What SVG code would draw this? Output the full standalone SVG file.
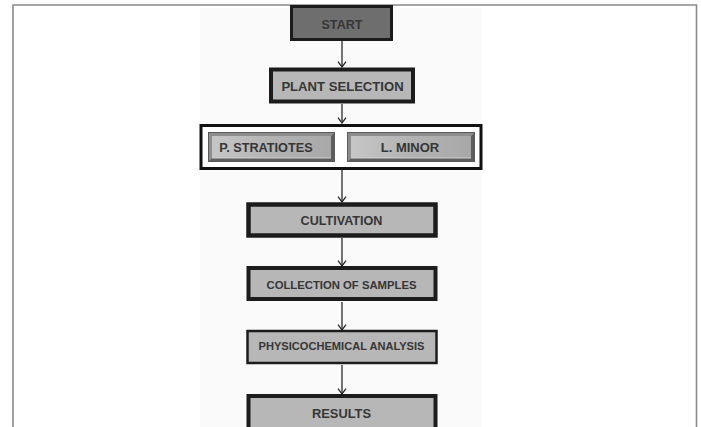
<svg xmlns="http://www.w3.org/2000/svg" width="701" height="427" viewBox="0 0 701 427">
<defs>
<style>
.box{fill:#b7b7b7;stroke:#1c1c1c}
.t{font-family:"Liberation Sans",Arial,sans-serif;font-weight:bold;fill:#363636;text-anchor:middle}
.con{stroke:#2a2a2a;stroke-width:1.3;fill:none}
</style>
<marker id="ah" viewBox="0 0 10 10" refX="9.3" refY="5" markerWidth="10" markerHeight="10" markerUnits="userSpaceOnUse" orient="auto">
<path d="M4,1 L9.3,5 L4,9" fill="none" stroke="#2a2a2a" stroke-width="1.3"/>
</marker>
<linearGradient id="bev" x1="0" y1="0" x2="1" y2="0">
<stop offset="0" stop-color="#c8c8c8"/>
<stop offset="0.5" stop-color="#b2b2b2"/>
<stop offset="1" stop-color="#a8a8a8"/>
</linearGradient>
</defs>
<rect x="0" y="0" width="701" height="427" fill="#ffffff"/>
<rect x="200" y="8" width="281" height="419" fill="#fafafa"/>
<path d="M13,427 V5 H696.5 V427" fill="none" stroke="#8a8a8a" stroke-width="1.6"/>

<g id="connectors">
<line class="con" x1="342" y1="40" x2="342" y2="67" marker-end="url(#ah)"/>
<line class="con" x1="342" y1="104" x2="342" y2="123" marker-end="url(#ah)"/>
<line class="con" x1="342" y1="170" x2="342" y2="202" marker-end="url(#ah)"/>
<line class="con" x1="342" y1="238" x2="342" y2="266" marker-end="url(#ah)"/>
<line class="con" x1="342" y1="302" x2="342" y2="330" marker-end="url(#ah)"/>
<line class="con" x1="342" y1="365" x2="342" y2="394" marker-end="url(#ah)"/>
</g>

<g id="start">
<rect x="291.5" y="6.5" width="100" height="33" fill="#6e6e6e" stroke="#1c1c1c" stroke-width="3"/>
<text class="t" x="342" y="29" font-size="12.6">START</text>
</g>

<g id="plant-selection">
<rect class="box" x="271" y="69.5" width="142" height="32" stroke-width="4"/>
<text class="t" x="342.5" y="91" font-size="13.1">PLANT SELECTION</text>
</g>

<g id="species-group">
<rect x="201" y="125.5" width="280" height="43" fill="#ffffff" stroke="#111111" stroke-width="3"/>
</g>

<g id="p-stratiotes">
<rect x="208.5" y="132.5" width="126" height="29" fill="url(#bev)" stroke="#5a5a5a" stroke-width="1"/>
<path d="M209,133 H334 L331,136 H212 V158 L209,161 Z" fill="#8d8d8d"/>
<path d="M334,133 V161 H209 L212,158 H331 V136 Z" fill="#5e5e5e"/>
<path d="M212,158 H331" stroke="#cfcfcf" stroke-width="1"/>
<text class="t" x="266" y="151.5" font-size="12.7">P. STRATIOTES</text>
</g>

<g id="l-minor">
<rect x="347.5" y="132.5" width="127" height="29" fill="url(#bev)" stroke="#5a5a5a" stroke-width="1"/>
<path d="M348,133 H474 L471,136 H351 V158 L348,161 Z" fill="#8d8d8d"/>
<path d="M474,133 V161 H348 L351,158 H471 V136 Z" fill="#5e5e5e"/>
<path d="M351,158 H471" stroke="#cfcfcf" stroke-width="1"/>
<text class="t" x="410" y="151.5" font-size="13">L. MINOR</text>
</g>

<g id="cultivation">
<rect class="box" x="248.5" y="204.5" width="187" height="31" stroke-width="4.5"/>
<text class="t" x="341.5" y="225" font-size="12.6">CULTIVATION</text>
</g>

<g id="collection">
<rect class="box" x="248.5" y="268" width="187" height="31" stroke-width="4"/>
<text class="t" x="341.5" y="289" font-size="11.3">COLLECTION OF SAMPLES</text>
</g>

<g id="physicochemical">
<rect class="box" x="247.5" y="331" width="189" height="32" stroke-width="2.5"/>
<text class="t" x="341.5" y="350" font-size="11.1">PHYSICOCHEMICAL ANALYSIS</text>
</g>

<g id="results">
<rect class="box" x="248.5" y="396" width="187" height="34" stroke-width="4"/>
<text class="t" x="341.5" y="418" font-size="12.9">RESULTS</text>
</g>
</svg>
